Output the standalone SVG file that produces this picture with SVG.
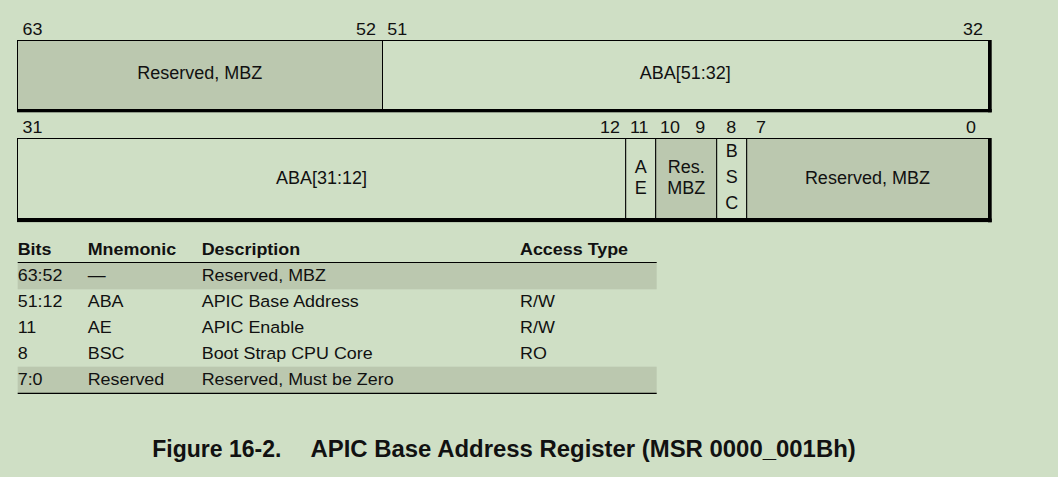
<svg xmlns="http://www.w3.org/2000/svg" width="1058" height="477" viewBox="0 0 1058 477">
<style>
.bg{fill:#CFDFC5}
.gray{fill:#BBC8AF}
.light{fill:#CFDFC5}
.cell{stroke:#000;stroke-width:1}
.thick{fill:#000}
.rt{font-family:"Liberation Sans",Arial,sans-serif;font-size:18px;fill:#111;text-anchor:middle}
.t{font-family:"Liberation Sans",Arial,sans-serif;font-size:16.5px;fill:#111}
.th{font-family:"Liberation Sans",Arial,sans-serif;font-size:16.5px;font-weight:bold;fill:#111}
.cap{font-family:"Liberation Sans",Arial,sans-serif;font-size:23px;font-weight:bold;fill:#111}
.m{text-anchor:middle}
.e{text-anchor:end}
.line{stroke:#000;stroke-width:1.2}
</style>
<rect class="bg" x="0" y="0" width="1058" height="477"/>

<!-- Bit labels upper -->
<g id="bitlabels-upper">
<text class="t" transform="translate(22.5 35) scale(1.085 1)">63</text>
<text class="t e" transform="translate(376 35) scale(1.085 1)">52</text>
<text class="t" transform="translate(387.3 35) scale(1.085 1)">51</text>
<text class="t e" transform="translate(983 35) scale(1.085 1)">32</text>
</g>

<!-- Upper register -->
<g id="reg-upper">
<g id="field-63-52">
<rect class="gray cell" x="17.5" y="40.5" width="365" height="69"/>
<text class="rt" x="199.8" y="79">Reserved, MBZ</text>
</g>
<g id="field-51-32">
<rect class="light cell" x="382.5" y="40.5" width="606" height="69"/>
<text class="rt" x="685.3" y="79">ABA[51:32]</text>
</g>
<rect class="thick" x="988" y="40" width="3.7" height="72.3"/>
<rect class="thick" x="17" y="109" width="974.7" height="3.3"/>
</g>

<!-- Bit labels lower -->
<g id="bitlabels-lower">
<text class="t" transform="translate(22.5 132.7) scale(1.085 1)">31</text>
<text class="t m" transform="translate(610 132.7) scale(1.085 1)">12</text>
<text class="t m" transform="translate(639.2 132.7) scale(1.085 1)">11</text>
<text class="t m" transform="translate(670 132.7) scale(1.085 1)">10</text>
<text class="t m" transform="translate(700.2 132.7) scale(1.085 1)">9</text>
<text class="t m" transform="translate(731.2 132.7) scale(1.085 1)">8</text>
<text class="t m" transform="translate(760.9 132.7) scale(1.085 1)">7</text>
<text class="t e" transform="translate(976 132.7) scale(1.085 1)">0</text>
</g>

<!-- Lower register -->
<g id="reg-lower">
<g id="field-31-12">
<rect class="light cell" x="17.5" y="138.5" width="608.2" height="80"/>
<text class="rt" x="321.5" y="183.5">ABA[31:12]</text>
</g>
<g id="field-11">
<rect class="light cell" x="625.7" y="138.5" width="30" height="80"/>
<text class="rt" x="640.7" y="172.7">A</text>
<text class="rt" x="640.7" y="194.3">E</text>
</g>
<g id="field-10-9">
<rect class="gray cell" x="655.7" y="138.5" width="61" height="80"/>
<text class="rt" x="686.2" y="172.7">Res.</text>
<text class="rt" x="686.2" y="194.3">MBZ</text>
</g>
<g id="field-8">
<rect class="light cell" x="716.7" y="138.5" width="30" height="80"/>
<text class="rt" x="731.7" y="157.3">B</text>
<text class="rt" x="731.7" y="183.3">S</text>
<text class="rt" x="731.7" y="209.3">C</text>
</g>
<g id="field-7-0">
<rect class="gray cell" x="746.7" y="138.5" width="241.8" height="80"/>
<text class="rt" x="867.4" y="183.5">Reserved, MBZ</text>
</g>
<rect class="thick" x="988" y="138" width="3.7" height="84.3"/>
<rect class="thick" x="17" y="218.5" width="974.7" height="3.6"/>
</g>

<!-- Table -->
<g id="table">
<rect class="gray" x="17.7" y="262.5" width="639" height="26.8"/>
<rect class="gray" x="17.7" y="366.7" width="639" height="26.6"/>
<line class="line" x1="17.7" y1="262.5" x2="656.7" y2="262.5"/>
<line class="line" x1="17.7" y1="393.3" x2="656.7" y2="393.3"/>
<g id="table-header">
<text class="th" transform="translate(17.7 255) scale(1.085 1)">Bits</text>
<text class="th" transform="translate(87.7 255) scale(1.085 1)">Mnemonic</text>
<text class="th" transform="translate(201.7 255) scale(1.085 1)">Description</text>
<text class="th" transform="translate(520 255) scale(1.085 1)">Access Type</text>
</g>
<g id="row-63-52">
<text class="t" transform="translate(17.7 280.5) scale(1.085 1)">63:52</text>
<text class="t" transform="translate(87.7 280.5) scale(1.085 1)">—</text>
<text class="t" transform="translate(201.7 280.5) scale(1.085 1)">Reserved, MBZ</text>
</g>
<g id="row-51-12">
<text class="t" transform="translate(17.7 306.5) scale(1.085 1)">51:12</text>
<text class="t" transform="translate(87.7 306.5) scale(1.085 1)">ABA</text>
<text class="t" transform="translate(201.7 306.5) scale(1.085 1)">APIC Base Address</text>
<text class="t" transform="translate(520 306.5) scale(1.085 1)">R/W</text>
</g>
<g id="row-11">
<text class="t" transform="translate(17.7 332.5) scale(1.085 1)">11</text>
<text class="t" transform="translate(87.7 332.5) scale(1.085 1)">AE</text>
<text class="t" transform="translate(201.7 332.5) scale(1.085 1)">APIC Enable</text>
<text class="t" transform="translate(520 332.5) scale(1.085 1)">R/W</text>
</g>
<g id="row-8">
<text class="t" transform="translate(17.7 358.5) scale(1.085 1)">8</text>
<text class="t" transform="translate(87.7 358.5) scale(1.085 1)">BSC</text>
<text class="t" transform="translate(201.7 358.5) scale(1.085 1)">Boot Strap CPU Core</text>
<text class="t" transform="translate(520 358.5) scale(1.085 1)">RO</text>
</g>
<g id="row-7-0">
<text class="t" transform="translate(17.7 384.5) scale(1.085 1)">7:0</text>
<text class="t" transform="translate(87.7 384.5) scale(1.085 1)">Reserved</text>
<text class="t" transform="translate(201.7 384.5) scale(1.085 1)">Reserved, Must be Zero</text>
</g>
</g>

<!-- Caption -->
<g id="caption">
<text class="cap" transform="translate(152.3 456.7)">Figure 16-2.</text>
<text class="cap" transform="translate(310.5 456.7) scale(1.04 1)">APIC Base Address Register (MSR 0000_001Bh)</text>
</g>
<g id="connectors"/>
</svg>
